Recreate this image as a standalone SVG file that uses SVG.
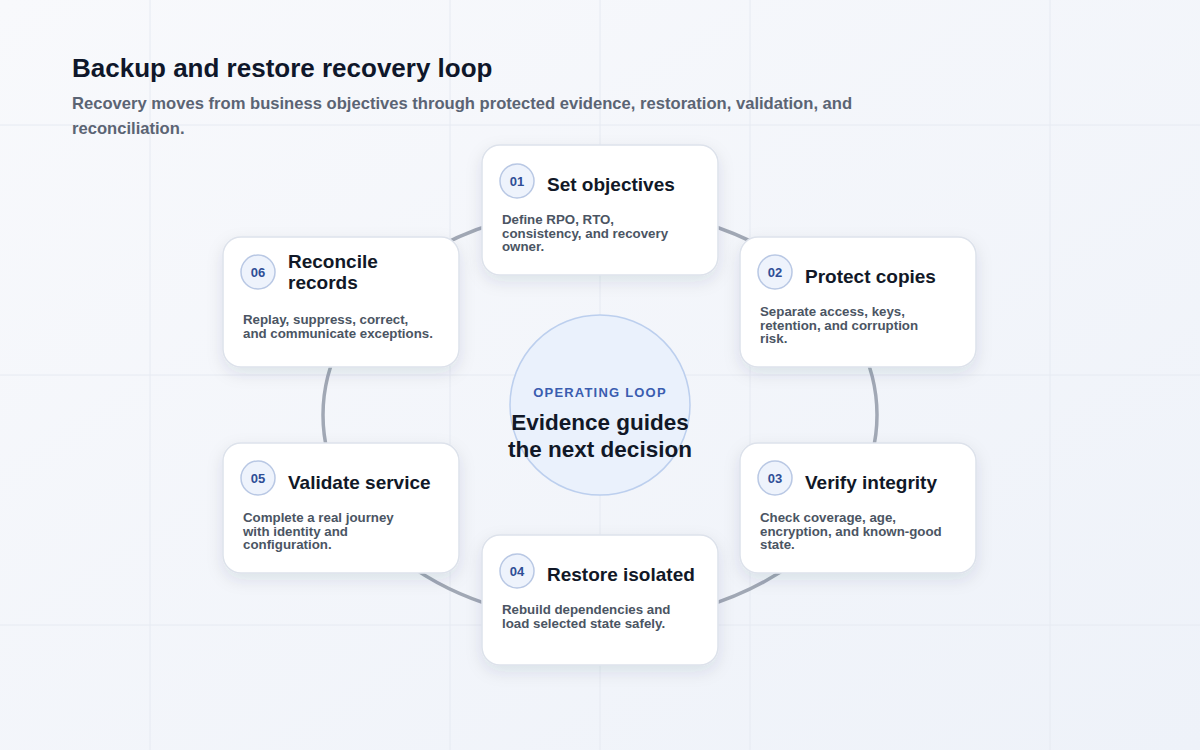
<svg xmlns="http://www.w3.org/2000/svg" width="1200" height="750" viewBox="0 0 1200 750">
  <defs>
    <linearGradient id="bg" x1="0" y1="0" x2="1" y2="1">
      <stop offset="0" stop-color="#f8f9fc"/>
      <stop offset="1" stop-color="#eef2f9"/>
    </linearGradient>
    <filter id="shadow" x="-20%" y="-20%" width="140%" height="150%">
      <feDropShadow dx="0" dy="6" stdDeviation="8" flood-color="#1e2a4a" flood-opacity="0.10"/>
    </filter>
    <style>
      .grid { stroke: #e6eaf2; stroke-width: 1; }
      .card { fill: #ffffff; stroke: #dde2eb; stroke-width: 1.5; filter: url(#shadow); }
      .badge { fill: #eef3fc; stroke: #b9c8e4; stroke-width: 1.5; }
      .num { font-family: "Liberation Sans", Arial, sans-serif; font-weight: 700; font-size: 13px; fill: #2f4e96; text-anchor: middle; }
      .ttl { font-family: "Liberation Sans", Arial, sans-serif; font-weight: 700; font-size: 19px; fill: #111827; }
      .desc { font-family: "Liberation Sans", Arial, sans-serif; font-weight: 700; font-size: 13.3px; fill: #4b5563; }
      .loop { fill: none; stroke: #a1a8b5; stroke-width: 3.5; }
    </style>
  </defs>

  <rect x="0" y="0" width="1200" height="750" fill="url(#bg)"/>
  <g id="grid">
    <line class="grid" x1="150" y1="0" x2="150" y2="750"/>
    <line class="grid" x1="450" y1="0" x2="450" y2="750"/>
    <line class="grid" x1="600" y1="0" x2="600" y2="750"/>
    <line class="grid" x1="750" y1="0" x2="750" y2="750"/>
    <line class="grid" x1="1050" y1="0" x2="1050" y2="750"/>
    <line class="grid" x1="0" y1="125" x2="1200" y2="125"/>
    <line class="grid" x1="0" y1="375" x2="1200" y2="375"/>
    <line class="grid" x1="0" y1="625" x2="1200" y2="625"/>
  </g>

  <g id="header">
    <text x="72" y="77" font-family="Liberation Sans, Arial, sans-serif" font-weight="700" font-size="26" fill="#0f172a">Backup and restore recovery loop</text>
    <text font-family="Liberation Sans, Arial, sans-serif" font-weight="700" font-size="16.6" fill="#5b6474">
      <tspan x="72" y="109">Recovery moves from business objectives through protected evidence, restoration, validation, and</tspan>
      <tspan x="72" y="134">reconciliation.</tspan>
    </text>
  </g>

  <g id="connectors">
    <ellipse class="loop" cx="600" cy="415" rx="277" ry="207"/>
  </g>

  <g id="center">
    <circle cx="600" cy="405" r="90" fill="#eaf1fc" stroke="#bccfee" stroke-width="1.5"/>
    <text x="600" y="397" text-anchor="middle" font-family="Liberation Sans, Arial, sans-serif" font-weight="700" font-size="13" letter-spacing="1.2" fill="#3a5db0">OPERATING LOOP</text>
    <text x="600" y="430" text-anchor="middle" font-family="Liberation Sans, Arial, sans-serif" font-weight="700" font-size="22.5" fill="#111827">Evidence guides</text>
    <text x="600" y="457" text-anchor="middle" font-family="Liberation Sans, Arial, sans-serif" font-weight="700" font-size="22.5" fill="#111827">the next decision</text>
  </g>

  <g id="node-01">
    <rect class="card" x="482" y="145" width="236" height="130" rx="18"/>
    <circle class="badge" cx="517" cy="181" r="17"/>
    <text class="num" x="517" y="186">01</text>
    <text class="ttl" x="547" y="191">Set objectives</text>
    <text class="desc"><tspan x="502" y="224">Define RPO, RTO,</tspan><tspan x="502" y="237.5">consistency, and recovery</tspan><tspan x="502" y="251">owner.</tspan></text>
  </g>

  <g id="node-02">
    <rect class="card" x="740" y="237" width="236" height="130" rx="18"/>
    <circle class="badge" cx="775" cy="272" r="17"/>
    <text class="num" x="775" y="277">02</text>
    <text class="ttl" x="805" y="283">Protect copies</text>
    <text class="desc"><tspan x="760" y="316">Separate access, keys,</tspan><tspan x="760" y="329.5">retention, and corruption</tspan><tspan x="760" y="343">risk.</tspan></text>
  </g>

  <g id="node-03">
    <rect class="card" x="740" y="443" width="236" height="130" rx="18"/>
    <circle class="badge" cx="775" cy="478" r="17"/>
    <text class="num" x="775" y="483">03</text>
    <text class="ttl" x="805" y="489">Verify integrity</text>
    <text class="desc"><tspan x="760" y="522">Check coverage, age,</tspan><tspan x="760" y="535.5">encryption, and known-good</tspan><tspan x="760" y="549">state.</tspan></text>
  </g>

  <g id="node-04">
    <rect class="card" x="482" y="535" width="236" height="130" rx="18"/>
    <circle class="badge" cx="517" cy="571" r="17"/>
    <text class="num" x="517" y="576">04</text>
    <text class="ttl" x="547" y="581">Restore isolated</text>
    <text class="desc"><tspan x="502" y="614">Rebuild dependencies and</tspan><tspan x="502" y="627.5">load selected state safely.</tspan></text>
  </g>

  <g id="node-05">
    <rect class="card" x="223" y="443" width="236" height="130" rx="18"/>
    <circle class="badge" cx="258" cy="478" r="17"/>
    <text class="num" x="258" y="483">05</text>
    <text class="ttl" x="288" y="489">Validate service</text>
    <text class="desc"><tspan x="243" y="522">Complete a real journey</tspan><tspan x="243" y="535.5">with identity and</tspan><tspan x="243" y="549">configuration.</tspan></text>
  </g>

  <g id="node-06">
    <rect class="card" x="223" y="237" width="236" height="130" rx="18"/>
    <circle class="badge" cx="258" cy="272" r="17"/>
    <text class="num" x="258" y="277">06</text>
    <text class="ttl"><tspan x="288" y="268">Reconcile</tspan><tspan x="288" y="289">records</tspan></text>
    <text class="desc"><tspan x="243" y="324">Replay, suppress, correct,</tspan><tspan x="243" y="337.5">and communicate exceptions.</tspan></text>
  </g>
</svg>
